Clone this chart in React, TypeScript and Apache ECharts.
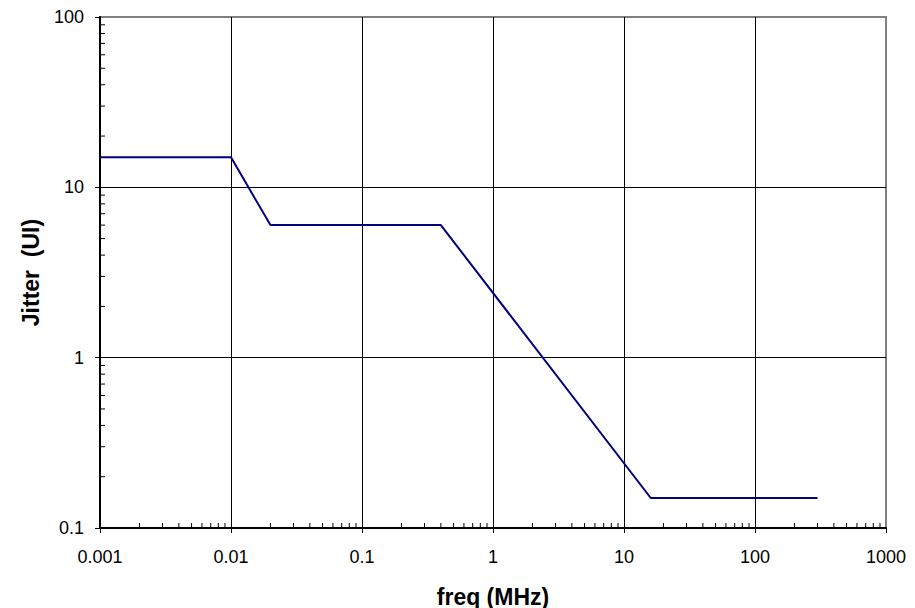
import React, { useEffect, useRef } from "react";
import * as echarts from "echarts";

const freqMHz = [0.001, 0.01, 0.02, 0.4, 16, 300];
const jitterUI = [15, 15, 6, 6, 0.15, 0.15];

const xDecades = [0.001, 0.01, 0.1, 1, 10, 100];
const yDecades = [0.1, 1, 10];
const minorMultipliers = [2, 3, 4, 5, 6, 7, 8, 9];

const X_MIN = 0.001;
const X_MAX = 1000;
const Y_MIN = 0.1;
const Y_MAX = 100;

const FONT = "Liberation Sans";

const fmt = (v: number) => String(Number(Number(v).toPrecision(6)));

export default function App() {
  const ref = useRef<HTMLDivElement>(null);

  useEffect(() => {
    if (!ref.current) return;
    const chart = echarts.init(ref.current, null, { renderer: "svg" });

    const xMinorTicks: number[][] = [];
    xDecades.forEach((d) => minorMultipliers.forEach((m) => xMinorTicks.push([m * d, Y_MIN])));
    const yMinorTicks: number[][] = [];
    yDecades.forEach((d) => minorMultipliers.forEach((m) => yMinorTicks.push([X_MIN, m * d])));

    const lineData = freqMHz.map((f, i) => [f, jitterUI[i]]);

    chart.setOption({
      animation: false,
      backgroundColor: "#ffffff",
      textStyle: { fontFamily: FONT },
      grid: {
        left: 100,
        right: 29,
        top: 17,
        bottom: 80,
        show: true,
        borderColor: "#808080",
        borderWidth: 2,
        backgroundColor: "transparent",
        containLabel: false,
        outerBoundsMode: "none",
      },
      xAxis: {
        type: "log",
        logBase: 10,
        min: X_MIN,
        max: X_MAX,
        splitNumber: 6,
        name: "freq (MHz)",
        nameLocation: "middle",
        nameGap: 57,
        nameTextStyle: { fontFamily: FONT, fontSize: 23, fontWeight: "bold", color: "#000" },
        axisLine: { show: true, onZero: false, lineStyle: { color: "#000", width: 2 } },
        axisTick: { show: true, inside: false, length: 5, lineStyle: { color: "#000", width: 1 } },
        axisLabel: { show: true, margin: 20, fontFamily: FONT, fontSize: 18, color: "#000", formatter: fmt },
        splitLine: { show: true, showMinLine: false, showMaxLine: false, lineStyle: { color: "#000", width: 1 } },
        minorTick: { show: false },
      },
      yAxis: {
        type: "log",
        logBase: 10,
        min: Y_MIN,
        max: Y_MAX,
        splitNumber: 3,
        name: "Jitter  (UI)",
        nameLocation: "middle",
        nameGap: 58,
        nameRotate: 90,
        nameTextStyle: { fontFamily: FONT, fontSize: 23, fontWeight: "bold", color: "#000" },
        axisLine: { show: true, onZero: false, lineStyle: { color: "#000", width: 2 } },
        axisTick: { show: true, inside: false, length: 5, lineStyle: { color: "#000", width: 1 } },
        axisLabel: { show: true, margin: 16, fontFamily: FONT, fontSize: 18, color: "#000", formatter: fmt },
        splitLine: { show: true, showMinLine: false, showMaxLine: false, lineStyle: { color: "#000", width: 1 } },
      },
      series: [
        {
          type: "line",
          data: lineData,
          symbol: "none",
          lineStyle: { color: "#000080", width: 2 },
          itemStyle: { color: "#000080" },
          z: 5,
        },
        {
          type: "custom",
          data: xMinorTicks,
          clip: false,
          silent: true,
          z: 4,
          renderItem: (_params: any, api: any) => {
            const p = api.coord([api.value(0), api.value(1)]);
            return {
              type: "line",
              shape: { x1: p[0], y1: p[1], x2: p[0], y2: p[1] - 5 },
              style: { stroke: "#000", lineWidth: 1 },
            };
          },
        },
        {
          type: "custom",
          data: yMinorTicks,
          clip: false,
          silent: true,
          z: 4,
          renderItem: (_params: any, api: any) => {
            const p = api.coord([api.value(0), api.value(1)]);
            return {
              type: "line",
              shape: { x1: p[0], y1: p[1], x2: p[0] + 5, y2: p[1] },
              style: { stroke: "#000", lineWidth: 1 },
            };
          },
        },
      ],
    });

    return () => {
      chart.dispose();
    };
  }, []);

  return (
    <div
      ref={ref}
      style={{ position: "fixed", left: 0, top: 0, width: 915, height: 608, background: "#fff" }}
    />
  );
}
